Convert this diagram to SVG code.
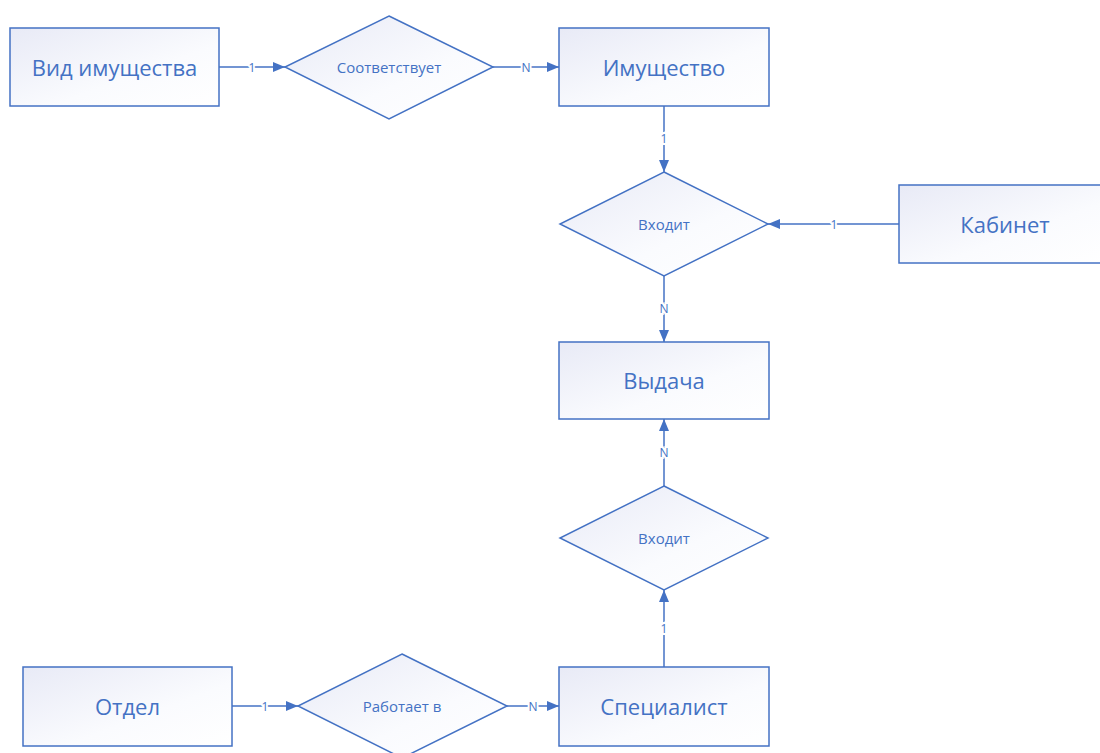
<svg xmlns="http://www.w3.org/2000/svg" width="1100" height="753" viewBox="0 0 1100 753">
<defs>
<linearGradient id="fill" x1="0" y1="0" x2="1" y2="1">
<stop offset="0" stop-color="#e8eaf6"/>
<stop offset="0.6" stop-color="#fafbfe"/>
<stop offset="1" stop-color="#ffffff"/>
</linearGradient>
<marker id="arr" viewBox="0 0 12 10" refX="12" refY="5" markerWidth="12" markerHeight="10" markerUnits="userSpaceOnUse" orient="auto">
<path d="M0,0 L12,5 L0,10 Z" fill="#4472c4"/>
</marker>
<style>
.ent{fill:url(#fill);stroke:#4472c4;stroke-width:1.5}
.rel{fill:url(#fill);stroke:#4472c4;stroke-width:1.5}
.et{font-family:"Open Sans","Noto Sans",sans-serif;font-size:22px;fill:#4472c4;text-anchor:middle;dominant-baseline:central}
.rt{font-family:"Open Sans","Noto Sans",sans-serif;font-size:15px;fill:#4472c4;text-anchor:middle;dominant-baseline:central}
.ln{fill:none;stroke:#4472c4;stroke-width:1.5;marker-end:url(#arr)}
.lb{font-family:"Open Sans","Noto Sans",sans-serif;font-size:12px;fill:#4472c4;text-anchor:middle;dominant-baseline:central;stroke:#ffffff;stroke-width:4;paint-order:stroke}
</style>
</defs>
<rect width="1100" height="753" fill="#ffffff"/>
<g id="connectors">
<path class="ln" d="M219,67 L285,67"/>
<text class="lb" x="252" y="67">1</text>
<path class="ln" d="M493,67 L559,67"/>
<text class="lb" x="526" y="67">N</text>
<path class="ln" d="M664,106 L664,172"/>
<text class="lb" x="664" y="138">1</text>
<path class="ln" d="M899,224 L768,224"/>
<text class="lb" x="834" y="224">1</text>
<path class="ln" d="M664,276 L664,342"/>
<text class="lb" x="664" y="308">N</text>
<path class="ln" d="M664,486 L664,419"/>
<text class="lb" x="664" y="452">N</text>
<path class="ln" d="M664,667 L664,590"/>
<text class="lb" x="664" y="628">1</text>
<path class="ln" d="M232,706 L298,706"/>
<text class="lb" x="265" y="706">1</text>
<path class="ln" d="M507,706 L559,706"/>
<text class="lb" x="533" y="706">N</text>
</g>
<g id="vid">
<rect class="ent" x="10" y="28" width="209" height="78"/>
<text class="et" x="114.5" y="67">Вид имущества</text>
</g>
<g id="sootv">
<polygon class="rel" points="389,16 493,67 389,119 285,67"/>
<text class="rt" x="389" y="67">Соответствует</text>
</g>
<g id="imushch">
<rect class="ent" x="559" y="28" width="210" height="78"/>
<text class="et" x="664" y="67">Имущество</text>
</g>
<g id="vhodit1">
<polygon class="rel" points="664,172 768,224 664,276 560,224"/>
<text class="rt" x="664" y="224">Входит</text>
</g>
<g id="kabinet">
<rect class="ent" x="899" y="185" width="210" height="78"/>
<text class="et" x="1005" y="224">Кабинет</text>
</g>
<g id="vydacha">
<rect class="ent" x="559" y="342" width="210" height="77"/>
<text class="et" x="664" y="380">Выдача</text>
</g>
<g id="vhodit2">
<polygon class="rel" points="664,486 768,538 664,590 560,538"/>
<text class="rt" x="664" y="538">Входит</text>
</g>
<g id="otdel">
<rect class="ent" x="23" y="667" width="209" height="79"/>
<text class="et" x="127.5" y="706">Отдел</text>
</g>
<g id="rabotaet">
<polygon class="rel" points="402,654 507,706 402,758 298,706"/>
<text class="rt" x="402" y="706">Работает в</text>
</g>
<g id="specialist">
<rect class="ent" x="559" y="667" width="210" height="79"/>
<text class="et" x="664" y="706">Специалист</text>
</g>
</svg>
